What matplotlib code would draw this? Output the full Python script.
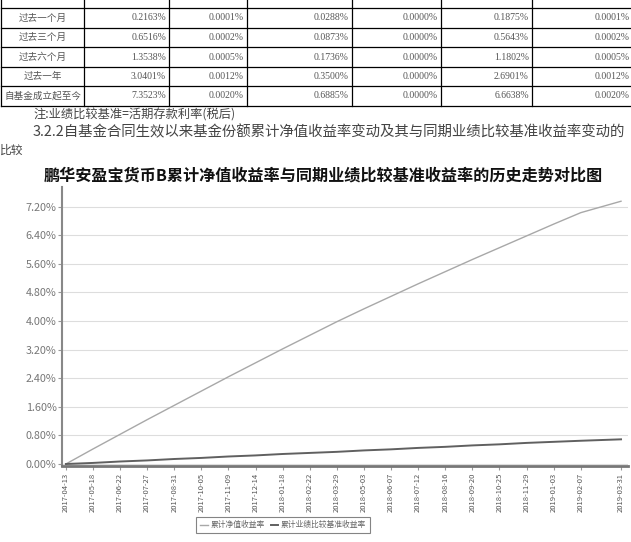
import numpy as np
import matplotlib
matplotlib.use("Agg")
import matplotlib.pyplot as plt
from matplotlib.ticker import FuncFormatter
import pandas as pd

plt.rcParams['font.family'] = ['Noto Sans CJK SC', 'DejaVu Sans']

# ---- data ----
row_labels = ["过去一个月", "过去三个月", "过去六个月", "过去一年", "自基金成立起至今"]
col_nav = ["0.2163%", "0.6516%", "1.3538%", "3.0401%", "7.3523%"]
col_nav_std = ["0.0001%", "0.0002%", "0.0005%", "0.0012%", "0.0020%"]
col_bench = ["0.0288%", "0.0873%", "0.1736%", "0.3500%", "0.6885%"]
col_bench_std = ["0.0000%", "0.0000%", "0.0000%", "0.0000%", "0.0000%"]
col_diff1 = ["0.1875%", "0.5643%", "1.1802%", "2.6901%", "6.6638%"]
col_diff2 = ["0.0001%", "0.0002%", "0.0005%", "0.0012%", "0.0020%"]

dates = ["2017-04-13", "2017-05-18", "2017-06-22", "2017-07-27", "2017-08-31",
         "2017-10-05", "2017-11-09", "2017-12-14", "2018-01-18", "2018-02-22",
         "2018-03-29", "2018-05-03", "2018-06-07", "2018-07-12", "2018-08-16",
         "2018-09-20", "2018-10-25", "2018-11-29", "2019-01-03", "2019-02-07",
         "2019-03-31"]
fund = [0.00, 0.42, 0.83, 1.24, 1.64, 2.04, 2.44, 2.83, 3.22, 3.60, 3.98,
        4.34, 4.69, 5.04, 5.38, 5.72, 6.05, 6.38, 6.71, 7.03, 7.35]
bench = [0.00, 0.03, 0.07, 0.10, 0.14, 0.17, 0.21, 0.24, 0.28, 0.31, 0.34,
         0.38, 0.41, 0.45, 0.48, 0.52, 0.55, 0.59, 0.62, 0.65, 0.69]
yticks = [0.0, 0.8, 1.6, 2.4, 3.2, 4.0, 4.8, 5.6, 6.4, 7.2]

title = "鹏华安盈宝货币B累计净值收益率与同期业绩比较基准收益率的历史走势对比图"
note = "注:业绩比较基准=活期存款利率(税后)"
para1 = "3.2.2自基金合同生效以来基金份额累计净值收益率变动及其与同期业绩比较基准收益率变动的"
para2 = "比较"

W, H = 631, 542
fig = plt.figure(figsize=(W / 100, H / 100), dpi=100)

# page layer in pixel coordinates
page = fig.add_axes([0, 0, 1, 1])
page.set_xlim(0, W)
page.set_ylim(H, 0)
page.axis("off")

col_x = [1, 84, 169, 247, 352, 441, 532, 633]
row_y = [-12, 8, 28, 47, 67, 86, 106]
for yy in row_y[1:]:
    page.plot([col_x[0], W], [yy, yy], color="black", lw=0.9)
for xx in col_x[:-1]:
    page.plot([xx, xx], [0, row_y[-1]], color="black", lw=0.9)

cols = [col_nav, col_nav_std, col_bench, col_bench_std, col_diff1, col_diff2]
for i, lab in enumerate(row_labels):
    yc = (row_y[i + 1] + row_y[i + 2]) / 2
    page.text((col_x[0] + col_x[1]) / 2, yc, lab, ha="center", va="center",
              fontsize=6.9, color="#555555")
    for j, col in enumerate(cols):
        page.text(col_x[j + 2] - 3, yc, col[i], ha="right", va="center",
                  fontsize=7, color="#555555", family="Liberation Serif")

page.text(33, 115, note, ha="left", va="center", fontsize=8.8, color="#444444")
page.text(33, 132, para1, ha="left", va="center", fontsize=10.4, color="#444444")
page.text(0, 150, para2, ha="left", va="center", fontsize=8.5, color="#444444")
page.text(323, 176, title, ha="center", va="center", fontsize=11.6,
          fontweight="bold", color="#111111")

# chart
ax = fig.add_axes([62 / W, 1 - 466 / H, (628 - 62) / W, (466 - 187) / H])
x = pd.to_datetime(dates)
ax.plot(x, fund, color="#a8a8a8", lw=1.0, label="累计净值收益率")
ax.plot(x, bench, color="#606060", lw=1.4, label="累计业绩比较基准收益率")

ax.set_ylim(-0.056, 7.748)
ax.set_yticks(yticks)
ax.yaxis.set_major_formatter(FuncFormatter(lambda v, p: "%.2f%%" % v))
ax.set_xticks(x)
ax.set_xticklabels(dates, rotation=90)
ax.set_xlim(x[0] - pd.Timedelta(days=5), x[-1] + pd.Timedelta(days=9))
ax.grid(axis="y", color="#dddddd", lw=0.8)
ax.set_axisbelow(True)
for s in ["top", "right"]:
    ax.spines[s].set_visible(False)
ax.spines["left"].set_color("#888888")
ax.spines["left"].set_linewidth(1.5)
ax.spines["bottom"].set_color("#777777")
ax.spines["bottom"].set_linewidth(2.0)
ax.tick_params(axis="y", labelsize=7.8, labelcolor="#777777", color="#999999",
               length=3, pad=1)
ax.tick_params(axis="x", labelsize=5.5, labelcolor="#555555", color="#999999",
               length=3, pad=2)

leg = ax.legend(loc="lower center", bbox_to_anchor=(283 / W, 1 - 537 / H), ncol=2,
                bbox_transform=fig.transFigure, fontsize=5.6, frameon=True,
                fancybox=False, edgecolor="#666666", handlelength=1.0,
                columnspacing=0.8, handletextpad=0.3, borderpad=0.5,
                labelcolor="#666666")
leg.get_frame().set_linewidth(0.8)

fig.savefig("out.png", dpi=100)
